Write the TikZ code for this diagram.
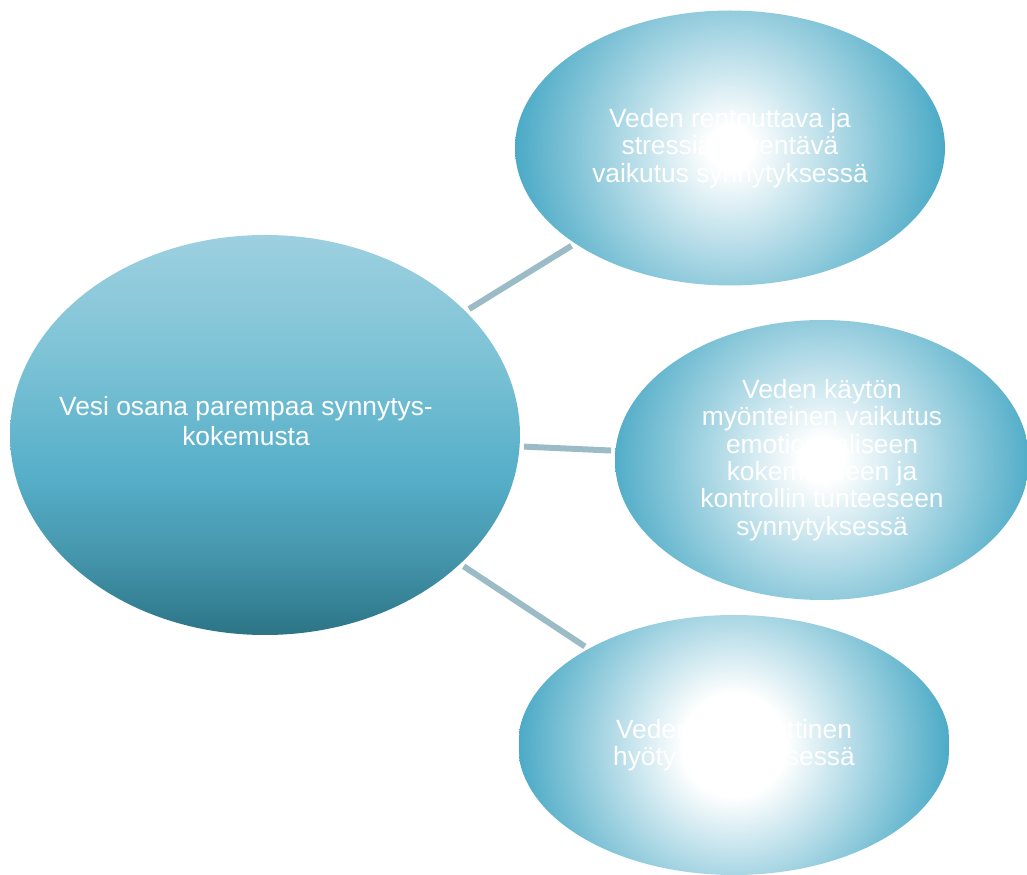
\documentclass[tikz,border=0pt]{standalone}
\usepackage{fontspec}
\setmainfont{Liberation Sans}
\usetikzlibrary{shapes.geometric}
\definecolor{rimblue}{HTML}{4BAAC6}
\definecolor{linkgray}{HTML}{9BBCC6}
\definecolor{hubtop}{HTML}{9DD0E0}
\definecolor{hubsoft}{HTML}{7DC3D6}
\definecolor{hubmid}{HTML}{56AFC9}
\definecolor{hublow}{HTML}{4596AC}
\definecolor{hubdeep}{HTML}{2C7486}
\pgfdeclareradialshading{glow}{\pgfpoint{0bp}{0bp}}{color(0bp)=(white); color(2.5bp)=(white); color(25bp)=(rimblue); color(50bp)=(rimblue)}
\pgfdeclareradialshading{wideglow}{\pgfpoint{0bp}{0bp}}{color(0bp)=(white); color(6bp)=(white); color(25bp)=(rimblue); color(50bp)=(rimblue)}
\pgfdeclareverticalshading{hubshade}{100bp}{color(0bp)=(hubdeep); color(25bp)=(hubdeep); color(35bp)=(hublow); color(45bp)=(hubmid); color(60bp)=(hubsoft); color(75bp)=(hubtop); color(100bp)=(hubtop)}
\tikzset{
  bubble/.style={ellipse, inner sep=0pt, text=white, align=center,
    font=\fontsize{15}{15.6}\selectfont,
    path picture={\shade[shading=#1] (path picture bounding box.center) circle (4.3cm);}},
  bubble/.default=glow,
  hubnode/.style={ellipse, shading=hubshade, inner sep=0pt},
  link/.style={line width=0.12cm, linkgray, shorten <=0.08cm, shorten >=0.08cm}
}
\begin{document}
\begin{tikzpicture}
\useasboundingbox (0,0) rectangle (20.54,-17.5);
\node[hubnode, minimum width=10.2cm, minimum height=8cm] (hub) at (5.3,-8.7) {};
\node[text=white, align=center, font=\fontsize{15}{17}\selectfont] (hubtext) at (4.92,-8.42)
  {Vesi osana parempaa synnytys-\\kokemusta};
\node[bubble, minimum width=8.6cm, minimum height=5.5cm] (calm) at (14.6,-2.96)
  {Veden rentouttava ja\\stressiä lieventävä\\vaikutus synnytyksessä};
\node[bubble, minimum width=8.28cm, minimum height=5.6cm] (mind) at (16.44,-9.2)
  {Veden käytön\\myönteinen vaikutus\\emotionaaliseen\\kokemukseen ja\\kontrollin tunteeseen\\synnytyksessä};
\node[bubble=wideglow, minimum width=8.64cm, minimum height=5.2cm] (gain) at (14.68,-14.9)
  {Veden terapeuttinen\\hyöty synnytyksessä};
\draw[link] (hub) -- (calm);
\draw[link] (hub) -- (mind);
\draw[link] (hub) -- (gain);
\end{tikzpicture}
\end{document}
